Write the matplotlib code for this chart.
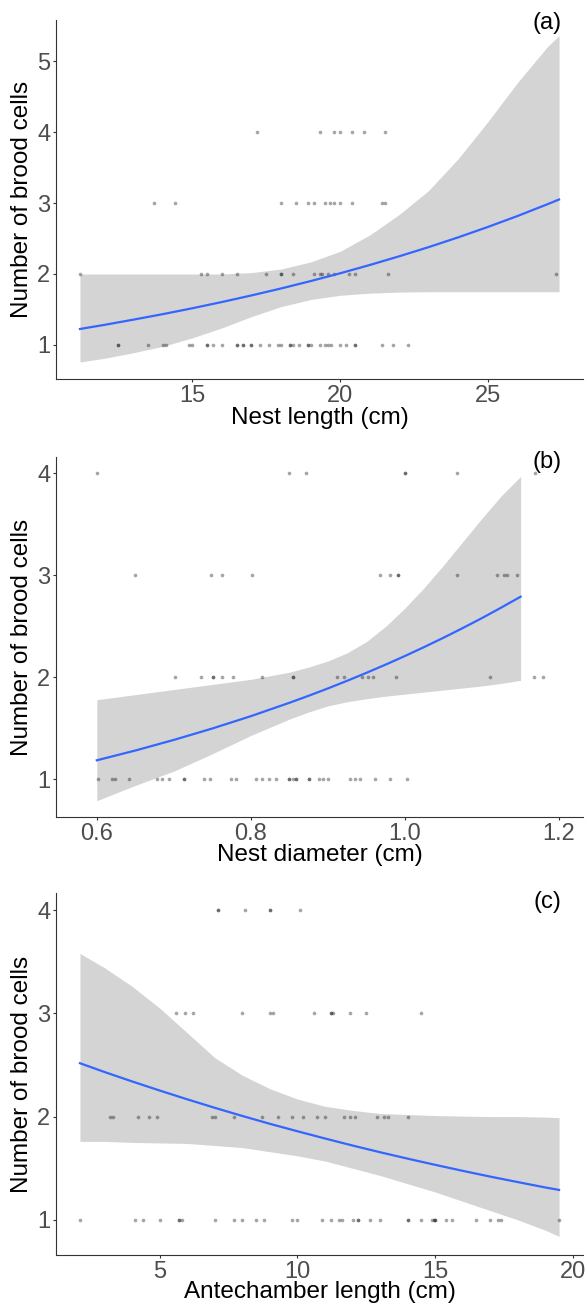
import numpy as np
import matplotlib
matplotlib.use("Agg")
import matplotlib.pyplot as plt

plt.rcParams['font.family'] = ['Liberation Sans', 'DejaVu Sans']

# ---- panel (a): nest length ----
a_x1 = [12.5, 12.5, 13.5, 14.0, 14.1, 14.9, 15.0, 15.5, 15.5, 15.7, 16.0, 16.5, 16.5,
        16.7, 16.7, 17.0, 17.0, 17.3, 17.6, 17.9, 18.0, 18.3, 18.3, 18.4, 18.6, 18.9,
        18.9, 19.0, 19.3, 19.5, 19.6, 19.7, 20.0, 20.2, 20.5, 20.5, 21.4, 21.8, 22.3]
a_x2 = [11.2, 15.3, 15.5, 16.0, 16.5, 17.5, 18.0, 18.0, 18.4, 19.1, 19.3, 19.4, 19.6,
        19.8, 20.3, 20.5, 21.6, 27.3]
a_x3 = [13.7, 14.4, 18.0, 18.5, 18.9, 19.1, 19.5, 19.65, 19.8, 20.0, 20.4, 21.4, 21.5]
a_x4 = [17.2, 19.3, 19.8, 20.0, 20.4, 20.8, 21.5]
a_grid = [11.2, 12, 13, 14, 15, 16, 17, 18, 19, 20, 21, 22, 23, 24, 25, 26, 27, 27.4]
a_fit = [1.225, 1.281, 1.356, 1.434, 1.517, 1.605, 1.698, 1.796, 1.900, 2.010, 2.127,
         2.250, 2.380, 2.518, 2.664, 2.818, 2.982, 3.050]
a_hi = [2.00, 2.00, 2.00, 2.00, 2.00, 2.00, 2.02, 2.07, 2.17, 2.32, 2.55, 2.84,
        3.18, 3.63, 4.15, 4.70, 5.20, 5.36]
a_lo = [0.76, 0.81, 0.89, 0.98, 1.10, 1.24, 1.40, 1.54, 1.64, 1.70, 1.73, 1.745,
        1.75, 1.75, 1.75, 1.75, 1.75, 1.75]

# ---- panel (b): nest diameter ----
b_x1 = [0.602, 0.620, 0.623, 0.642, 0.678, 0.684, 0.694, 0.713, 0.713, 0.739, 0.747,
        0.774, 0.780, 0.807, 0.814, 0.824, 0.833, 0.850, 0.850, 0.854, 0.859, 0.859,
        0.876, 0.876, 0.888, 0.894, 0.900, 0.929, 0.935, 0.941, 0.961, 0.981, 1.002]
b_x2 = [0.702, 0.735, 0.751, 0.751, 0.763, 0.777, 0.815, 0.854, 0.854, 0.912, 0.921,
        0.944, 0.952, 0.959, 0.988, 1.110, 1.168, 1.179]
b_x3 = [0.649, 0.748, 0.763, 0.801, 0.968, 0.980, 0.991, 0.991, 1.067, 1.119, 1.128,
        1.132, 1.145]
b_x4 = [0.600, 0.849, 0.872, 1.000, 1.000, 1.067, 1.169]
b_grid = [0.6, 0.65, 0.7, 0.75, 0.8, 0.85, 0.875, 0.9, 0.925, 0.95, 0.975, 1.0,
          1.025, 1.05, 1.075, 1.1, 1.125, 1.15]
b_fit = [1.186, 1.282, 1.386, 1.498, 1.619, 1.750, 1.819, 1.891, 1.966, 2.044, 2.125,
         2.209, 2.297, 2.388, 2.483, 2.581, 2.684, 2.790]
b_hi = [1.78, 1.83, 1.88, 1.93, 1.98, 2.05, 2.10, 2.16, 2.24, 2.35, 2.50, 2.68,
        2.88, 3.10, 3.33, 3.56, 3.78, 3.97]
b_lo = [0.79, 0.94, 1.08, 1.25, 1.43, 1.59, 1.66, 1.72, 1.76, 1.79, 1.815, 1.835,
        1.855, 1.875, 1.895, 1.915, 1.94, 1.97]

# ---- panel (c): antechamber length ----
c_x1 = [2.1, 4.1, 4.4, 5.0, 5.7, 5.7, 5.8, 7.0, 7.7, 8.0, 8.5, 8.8, 9.8, 10.0, 10.9,
        11.2, 11.5, 11.6, 12.0, 12.2, 12.2, 12.65, 13.0, 14.0, 14.0, 14.5, 14.9, 14.95,
        15.0, 15.0, 15.4, 15.6, 16.5, 17.0, 17.3, 17.4, 19.5]
c_x2 = [3.2, 3.3, 4.2, 4.6, 4.9, 6.9, 7.0, 7.7, 8.7, 9.3, 9.8, 10.2, 10.7, 11.0, 11.7,
        11.9, 12.1, 12.9, 13.15, 13.3, 14.0]
c_x3 = [5.6, 5.9, 6.2, 8.0, 9.0, 9.1, 10.6, 11.2, 11.2, 11.3, 11.9, 12.5, 14.5]
c_x4 = [7.1, 7.1, 8.1, 9.0, 9.0, 10.1]
c_grid = [2.1, 3, 4, 5, 6, 7, 8, 9, 10, 11, 12, 13, 14, 15, 16, 17, 18, 19, 19.5]
c_fit = [2.517, 2.431, 2.340, 2.252, 2.167, 2.085, 2.006, 1.930, 1.858, 1.788, 1.720,
         1.655, 1.593, 1.533, 1.475, 1.419, 1.366, 1.314, 1.290]
c_hi = [3.58, 3.44, 3.26, 3.05, 2.81, 2.57, 2.40, 2.27, 2.17, 2.10, 2.06, 2.03,
        2.02, 2.01, 2.005, 2.00, 2.00, 1.995, 1.99]
c_lo = [1.76, 1.76, 1.75, 1.745, 1.74, 1.72, 1.70, 1.66, 1.62, 1.57, 1.50, 1.43,
        1.35, 1.27, 1.18, 1.09, 1.00, 0.90, 0.84]

panels = [
    dict(rows=[a_x1, a_x2, a_x3, a_x4], grid=a_grid, fit=a_fit, lo=a_lo, hi=a_hi,
         xlim=(10.39, 28.21), ylim=(0.52, 5.58), xticks=[15, 20, 25], xfmt='{:.0f}',
         yticks=[1, 2, 3, 4, 5], xlabel='Nest length (cm)', tag='(a)',
         rect=[56, 20, 583, 379], tagy=23, xlaby=418),
    dict(rows=[b_x1, b_x2, b_x3, b_x4], grid=b_grid, fit=b_fit, lo=b_lo, hi=b_hi,
         xlim=(0.547, 1.231), ylim=(0.63, 4.16), xticks=[0.6, 0.8, 1.0, 1.2], xfmt='{:.1f}',
         yticks=[1, 2, 3, 4], xlabel='Nest diameter (cm)', tag='(b)',
         rect=[56, 457, 583, 817], tagy=462, xlaby=855),
    dict(rows=[c_x1, c_x2, c_x3, c_x4], grid=c_grid, fit=c_fit, lo=c_lo, hi=c_hi,
         xlim=(1.23, 20.37), ylim=(0.66, 4.165), xticks=[5, 10, 15, 20], xfmt='{:.0f}',
         yticks=[1, 2, 3, 4], xlabel='Antechamber length (cm)', tag='(c)',
         rect=[56, 893, 583, 1255], tagy=902, xlaby=1292),
]

W, H = 587, 1307
fig = plt.figure(figsize=(W / 100, H / 100), dpi=100)

for p in panels:
    l, t, r, b = p['rect']
    ax = fig.add_axes([l / W, (H - b) / H, (r - l) / W, (b - t) / H])

    # confidence ribbon and fitted curve
    ax.fill_between(p['grid'], p['lo'], p['hi'], color='#d4d4d4', lw=0, zorder=1)
    for k, xs in enumerate(p['rows']):
        ax.scatter(xs, [k + 1] * len(xs), s=7, color='black', alpha=0.35,
                   linewidths=0, zorder=2)
    ax.plot(p['grid'], p['fit'], color='#3366ff', lw=1.6, zorder=3)

    ax.set_xlim(p['xlim'])
    ax.set_ylim(p['ylim'])
    ax.set_xticks(p['xticks'])
    ax.set_xticklabels([p['xfmt'].format(v) for v in p['xticks']])
    ax.set_yticks(p['yticks'])

    for s in ['top', 'right']:
        ax.spines[s].set_visible(False)
    for s in ['left', 'bottom']:
        ax.spines[s].set_color('#333333')
        ax.spines[s].set_linewidth(0.8)
    ax.tick_params(length=2.5, width=0.8, color='#333333', labelcolor='#4d4d4d',
                   labelsize=17, pad=1.5)

    ax.set_ylabel('Number of brood cells', fontsize=17.5, color='black')
    ax.yaxis.set_label_coords((22.5 - l) / (r - l), 0.5)
    ax.yaxis.label.set_va('center')
    ax.set_xlabel(p['xlabel'], fontsize=17.5, color='black')
    ax.xaxis.set_label_coords(0.5, -(p['xlaby'] - b) / (b - t))
    ax.xaxis.label.set_va('center')

    ax.text((547 - l) / (r - l), (b - p['tagy']) / (b - t), p['tag'],
            transform=ax.transAxes, ha='center', va='center', fontsize=17, color='black')

fig.savefig('out.png', dpi=100)
